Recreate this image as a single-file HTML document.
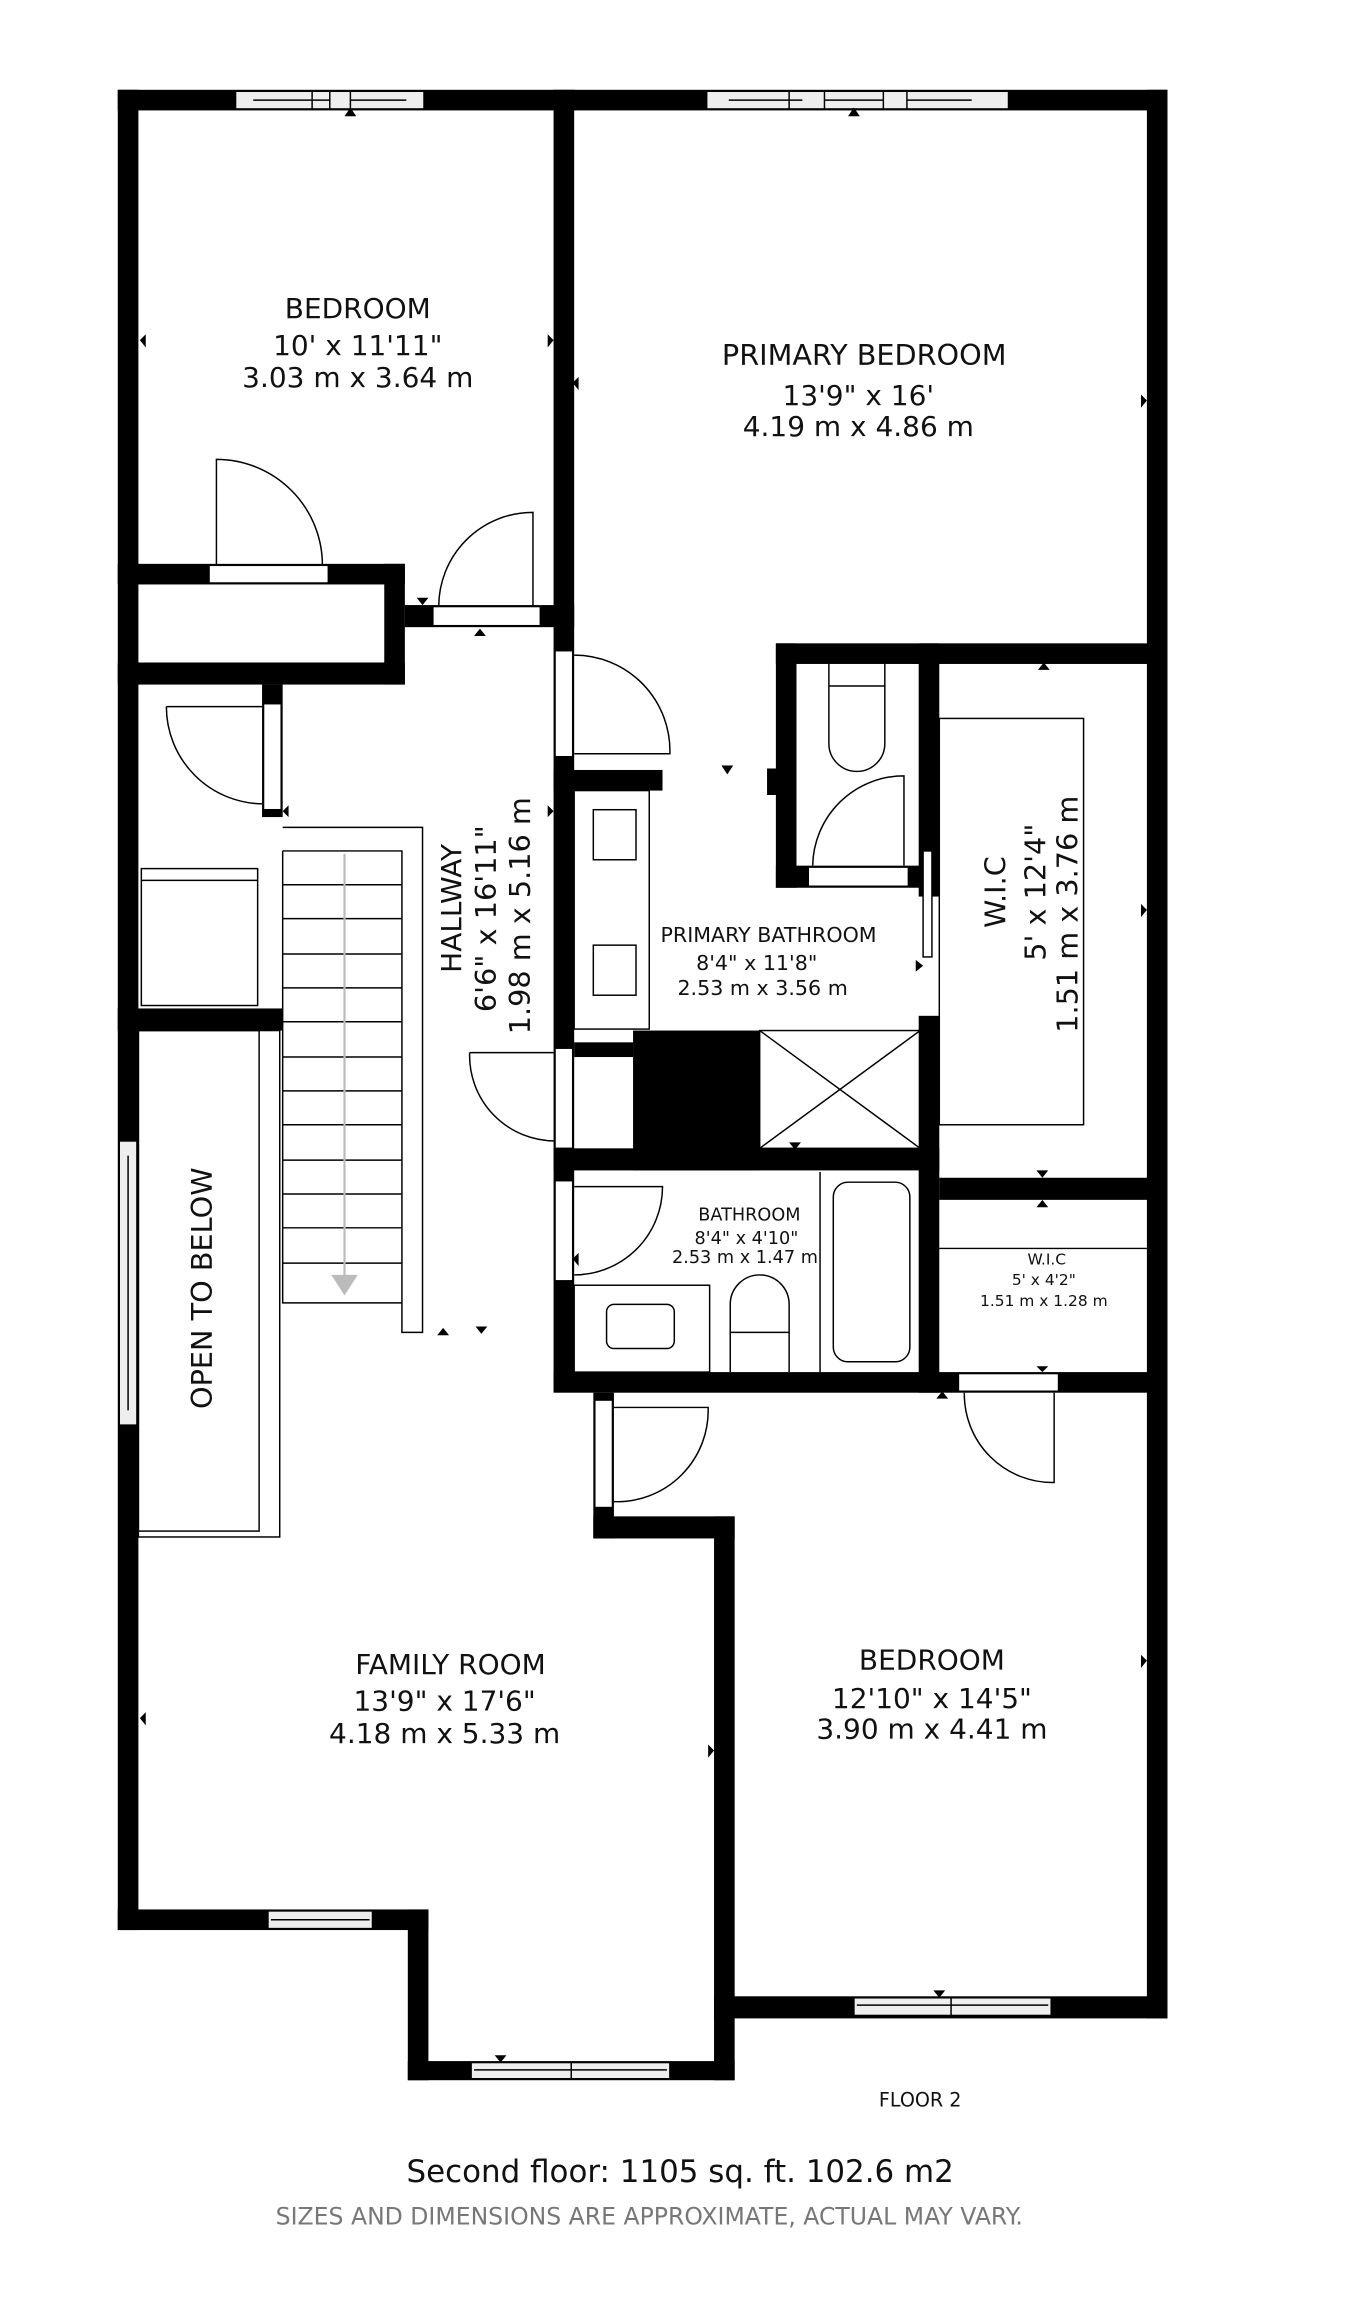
<!DOCTYPE html>
<html><head><meta charset="utf-8"><style>
html,body{margin:0;padding:0;background:#fff;}
svg{display:block;}
text{font-family:"DejaVu Sans","Liberation Sans",sans-serif;fill:#111;}
</style></head><body>
<svg width="1353" height="2304" viewBox="0 0 919 1565" preserveAspectRatio="none" xmlns="http://www.w3.org/2000/svg">
<rect width="919" height="1565" fill="#fff"/>
<g fill="#000">
<rect x="80" y="61" width="713" height="14"/>
<rect x="80" y="61" width="14" height="1250"/>
<rect x="779" y="61" width="14" height="1310"/>
<rect x="376" y="61" width="14" height="364"/>
<rect x="80" y="383" width="195" height="14"/>
<rect x="261" y="383" width="14" height="82"/>
<rect x="80" y="450" width="195" height="15"/>
<rect x="275" y="411" width="115" height="15"/>
<rect x="178" y="465" width="14" height="90"/>
<rect x="80" y="685" width="112" height="15"/>
<rect x="376" y="425" width="14" height="520"/>
<rect x="376" y="523" width="74" height="14"/>
<rect x="527" y="437" width="266" height="14"/>
<rect x="527" y="437" width="14" height="166"/>
<rect x="521" y="522" width="8" height="18"/>
<rect x="527" y="588" width="98" height="15"/>
<rect x="624" y="437" width="14" height="172"/>
<rect x="624" y="690" width="14" height="256"/>
<rect x="376" y="780" width="262" height="15"/>
<rect x="430" y="700" width="86" height="95"/>
<rect x="390" y="708" width="40" height="10"/>
<rect x="638" y="800" width="155" height="15"/>
<rect x="376" y="932" width="417" height="14"/>
<rect x="403" y="946" width="14" height="99"/>
<rect x="403" y="1030" width="96" height="15"/>
<rect x="485" y="1030" width="14" height="383"/>
<rect x="485" y="1356" width="308" height="15"/>
<rect x="80" y="1297" width="211" height="14"/>
<rect x="277" y="1297" width="14" height="116"/>
<rect x="277" y="1400" width="222" height="13"/>
</g>
<g fill="#fff" stroke="#000" stroke-width="1">
<rect x="160" y="62" width="128" height="12" fill="#eee"/>
<rect x="480" y="62" width="205" height="12" fill="#eee"/>
<rect x="142" y="384" width="81" height="12"/>
<rect x="294" y="412" width="73" height="13"/>
<rect x="179" y="478" width="12" height="72"/>
<rect x="377" y="442" width="12" height="72"/>
<rect x="377" y="712" width="12" height="68"/>
<rect x="377" y="802" width="12" height="68"/>
<rect x="549" y="589" width="68" height="13"/>
<rect x="627" y="578" width="6" height="72"/>
<rect x="651" y="933" width="68" height="12"/>
<rect x="404" y="951" width="12" height="73"/>
<rect x="81" y="775" width="12" height="193" fill="#eee"/>
<rect x="182" y="1298" width="71" height="12" fill="#eee"/>
<rect x="320" y="1401" width="135" height="11" fill="#eee"/>
<rect x="580" y="1357" width="134" height="12" fill="#eee"/>
</g>
<g stroke="#000" stroke-width="1" fill="none">
<path d="M172 68H224M238 68H276M212 62V74M224 62V74M238 62V74M495 68H545M560 68H600M616 68H660M536 62V74M560 62V74M600 62V74M616 62V74M87 785V958M322 1406H453M388 1401V1412M582 1362H712M646 1357V1369M184 1304H251"/>
</g>
<g stroke="#000" stroke-width="1" fill="none">
<path d="M147 384V312A72 72 0 0 1 219 384"/>
<path d="M362 412V348A64 64 0 0 0 298 412"/>
<path d="M113 480H178M113 480A66 66 0 0 0 179 546"/>
<path d="M390 445A65 65 0 0 1 455 512H390"/>
<path d="M319 715H376M319 715A58 58 0 0 0 377 775"/>
<path d="M390 806H450A60 60 0 0 1 390 866"/>
<path d="M614 588V527A62 62 0 0 0 552 588"/>
<path d="M716 946V1007A60 60 0 0 1 655 946"/>
<path d="M417 956H481A62 62 0 0 1 417 1020"/>
</g>
<g stroke="#000" stroke-width="1" fill="none">
<rect x="96" y="590" width="79" height="93"/>
<line x1="96" y1="598" x2="175" y2="598"/>
<rect x="94" y="700" width="96" height="344"/>
<rect x="94" y="700" width="82" height="340"/>
<rect x="390" y="537" width="51" height="162"/>
<rect x="403" y="550" width="29" height="34"/>
<rect x="403" y="642" width="29" height="34"/>
<rect x="445" y="702" width="57" height="38"/>
<rect x="516" y="700" width="109" height="80"/>
<path d="M516 700L625 780M625 700L516 780"/>
<path d="M563 451V466H601V451M563 466V505A19 19 0 0 0 601 505V466"/>
<rect x="638" y="488" width="98" height="276"/>
<line x1="638" y1="848" x2="779" y2="848"/>
<line x1="557" y1="796" x2="557" y2="932"/>
<rect x="566" y="803" width="52" height="122" rx="10"/>
<rect x="390" y="873" width="92" height="59"/>
<rect x="412" y="886" width="46" height="30" rx="5"/>
<path d="M496 932V886A20 20 0 0 1 536 886V932M496 905H536"/>
<path d="M192 562H287V905H273V578H192"/>
<path d="M192 578V885H273"/>
<path d="M192 601H273M192 624H273M192 648H273M192 671H273M192 694H273M192 718H273M192 741H273M192 764H273M192 788H273M192 811H273M192 834H273M192 858H273"/>
</g>
<line x1="234" y1="580" x2="234" y2="868" stroke="#bbb" stroke-width="1.5"/>
<polygon points="225,866 243,866 234,880" fill="#bbb"/>
<g text-anchor="middle">
<text x="243" y="216" font-size="19">BEDROOM</text>
<text x="243" y="241" font-size="19">10' x 11'11"</text>
<text x="243" y="263" font-size="19">3.03 m x 3.64 m</text>
<text x="587" y="248" font-size="19.5">PRIMARY BEDROOM</text>
<text x="583" y="275" font-size="19">13'9" x 16'</text>
<text x="583" y="296" font-size="19">4.19 m x 4.86 m</text>
<text x="522" y="640" font-size="14">PRIMARY BATHROOM</text>
<text x="514" y="659" font-size="14">8'4" x 11'8"</text>
<text x="518" y="676" font-size="14">2.53 m x 3.56 m</text>
<text x="509" y="829" font-size="12">BATHROOM</text>
<text x="507" y="845" font-size="12">8'4" x 4'10"</text>
<text x="506" y="858" font-size="12">2.53 m x 1.47 m</text>
<text x="711" y="859" font-size="10.5">W.I.C</text>
<text x="709" y="873" font-size="10.5">5' x 4'2"</text>
<text x="709" y="887" font-size="10.5">1.51 m x 1.28 m</text>
<text x="306" y="1137" font-size="19">FAMILY ROOM</text>
<text x="302" y="1162" font-size="19">13'9" x 17'6"</text>
<text x="302" y="1184" font-size="19">4.18 m x 5.33 m</text>
<text x="633" y="1134" font-size="19">BEDROOM</text>
<text x="633" y="1160" font-size="19">12'10" x 14'5"</text>
<text x="633" y="1181" font-size="19">3.90 m x 4.41 m</text>
<text x="625" y="1431" font-size="13">FLOOR 2</text>
<text x="462" y="1482" font-size="21">Second floor:  1105 sq. ft. 102.6 m2</text>
<text x="441" y="1511" font-size="16" style="fill:#777">SIZES AND DIMENSIONS ARE APPROXIMATE, ACTUAL MAY VARY.</text>
</g>
<g text-anchor="middle">
<text transform="translate(144 875) rotate(-90)" font-size="19.5">OPEN TO BELOW</text>
<text transform="translate(313 617) rotate(-90)" font-size="19">HALLWAY</text>
<text transform="translate(337 624) rotate(-90)" font-size="19.5">6'6" x 16'11"</text>
<text transform="translate(360 622) rotate(-90)" font-size="19.5">1.98 m x 5.16 m</text>
<text transform="translate(683 606) rotate(-90)" font-size="19.5">W.I.C</text>
<text transform="translate(710 606) rotate(-90)" font-size="19.5">5' x 12'4"</text>
<text transform="translate(732 621) rotate(-90)" font-size="19.5">1.51 m x 3.76 m</text>
</g>
<g fill="#000">
<polygon points="234,79 242,79 238,73"/>
<polygon points="576,79 584,79 580,73"/>
<polygon points="99,227 99,236 95,231"/>
<polygon points="372,227 372,236 376,231"/>
<polygon points="393,256 393,265 389,260"/>
<polygon points="775,268 775,277 779,272"/>
<polygon points="322,432 330,432 326,427"/>
<polygon points="283,406 291,406 287,411"/>
<polygon points="490,520 498,520 494,526"/>
<polygon points="705,455 713,455 709,450"/>
<polygon points="775,614 775,623 779,618"/>
<polygon points="622,652 622,660 627,656"/>
<polygon points="196,547 196,555 192,551"/>
<polygon points="372,547 372,555 376,551"/>
<polygon points="297,907 305,907 301,902"/>
<polygon points="323,901 331,901 327,906"/>
<polygon points="536,776 544,776 540,781"/>
<polygon points="704,795 712,795 708,800"/>
<polygon points="704,820 712,820 708,815"/>
<polygon points="704,928 712,928 708,932"/>
<polygon points="636,950 644,950 640,945"/>
<polygon points="393,851 393,860 389,855"/>
<polygon points="99,1163 99,1172 95,1167"/>
<polygon points="481,1185 481,1194 485,1189"/>
<polygon points="775,1124 775,1133 779,1128"/>
<polygon points="336,1396 344,1396 340,1401"/>
<polygon points="634,1352 642,1352 638,1357"/>
</g>
</svg>
</body></html>
